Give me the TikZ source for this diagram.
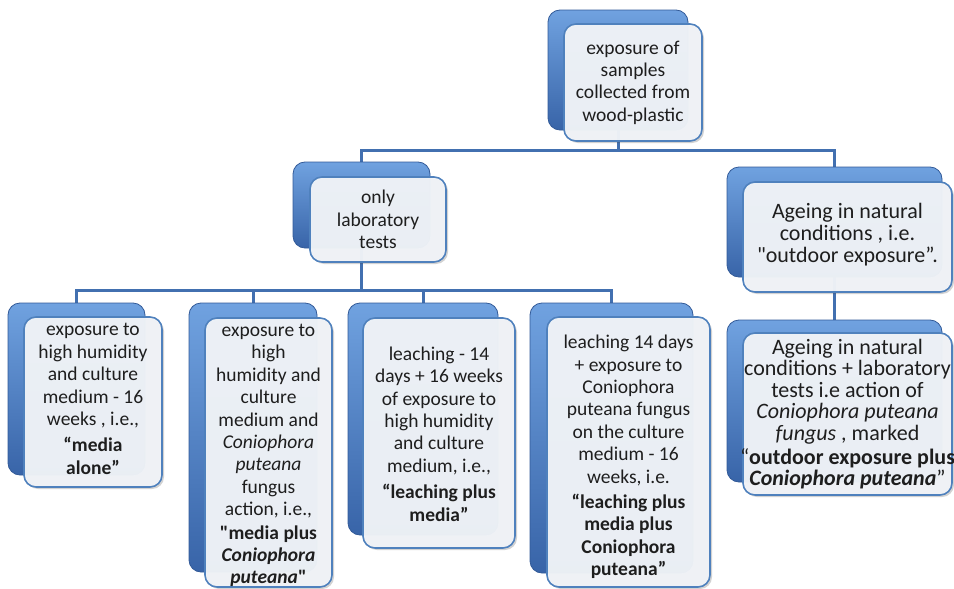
\documentclass[tikz,border=0pt]{standalone}
\usepackage{fontspec}
\setmainfont{Carlito}
% a second copy of the family without TeX ligatures, for straight quotes
\newfontfamily\qfont{Carlito}
\newcommand{\sq}{{\qfont"}}
\usetikzlibrary{shadows,backgrounds}

\definecolor{bluetop}{RGB}{112,162,224}
\definecolor{bluemid}{RGB}{72,124,192}
\definecolor{bluebot}{RGB}{56,100,168}
\definecolor{blueedge}{RGB}{50,90,152}
\definecolor{lineblue}{RGB}{66,112,176}
\definecolor{cardfill}{RGB}{241,244,248}
\definecolor{cardedge}{RGB}{79,129,189}
\definecolor{inkgray}{RGB}{30,30,30}

\tikzset{
  backbox/.style={rounded corners=12pt, top color=bluetop, middle color=bluemid,
    bottom color=bluebot, draw=blueedge, line width=0.8pt, inner sep=0pt},
  card/.style={rounded corners=12pt, fill=cardfill, fill opacity=0.96,
    draw=cardedge, line width=1.6pt, inner sep=0pt,
    drop shadow={shadow xshift=2pt, shadow yshift=-2pt, opacity=0.25, fill=black!70}},
  cardtext/.style={align=center, text=inkgray, inner sep=0pt},
  smalltxt/.style={font=\fontsize{19.5}{22.4}\selectfont},
  bigtxt/.style={font=\fontsize{22}{21.6}\selectfont},
  conn/.style={draw=lineblue, line width=3pt},
}

% \panel{name}{x1}{y1}{x2}{y2}
\newcommand{\panel}[5]{%
  \node[backbox, minimum width={(#4-#2)*1pt}, minimum height={(#5-#3)*1pt}]
    (#1) at ({(#2+#4)/2},{(#3+#5)/2}) {};}
% \cardat{text style}{name}{x1}{y1}{x2}{y2}{text shift}{text}
\newcommand{\cardat}[8]{%
  \node[card, minimum width={(#5-#3)*1pt}, minimum height={(#6-#4)*1pt}]
    (#2) at ({(#3+#5)/2},{(#4+#6)/2}) {};
  \node[cardtext, #1] (#2-t) at ([yshift={-(#7)*1pt}]#2.center) {#8};}

\begin{document}
\begin{tikzpicture}[x=1pt,y=-1pt]
\useasboundingbox (0,0) rectangle (954,589);

% dark blue backing panels
\panel{rootb}{548}{10}{688}{130}
\panel{labb}{293}{162}{430}{248}
\panel{ageb}{727}{167}{942}{277}
\panel{b1b}{8}{303}{145}{475}
\panel{b2b}{189}{303}{317}{572}
\panel{b3b}{348}{303}{498}{535}
\panel{b4b}{530}{303}{693}{573}
\panel{agebb}{727}{320}{942}{482}

% text cards
\cardat{smalltxt}{root}{564}{24}{702}{141}{0}{exposure of\\samples\\collected from\\wood-plastic}
\cardat{smalltxt}{lab}{310}{177}{446}{262}{0}{only\\laboratory\\tests}
\cardat{bigtxt}{age}{743}{182}{952}{292}{-2}{Ageing in natural\\conditions , i.e.\\[1pt]\sq outdoor exposure”.}
\cardat{smalltxt}{b1}{24}{317}{162}{487}{-3}{exposure to\\high humidity\\and culture\\medium - 16\\weeks , i.e.,\\[4pt]\textbf{“media}\\\textbf{alone”}}
\cardat{smalltxt}{b2}{205}{318}{332}{587}{3}{exposure to\\high\\humidity and\\culture\\medium and\\\textit{Coniophora}\\\textit{puteana}\\fungus\\action, i.e.,\\[1pt]\textbf{\sq media plus}\\\textbf{\textit{Coniophora}}\\\textbf{\textit{puteana}\sq}}
\cardat{smalltxt}{b3}{363}{318}{515}{548}{1}{leaching - 14\\days + 16 weeks\\of exposure to\\high humidity\\and culture\\medium, i.e.,\\[4pt]\textbf{“leaching plus}\\\textbf{media”}}
\cardat{smalltxt}{b4}{547}{317}{710}{587}{5}{leaching 14 days\\+ exposure to\\Coniophora\\puteana fungus\\on the culture\\medium - 16\\weeks, i.e.\\[3pt]\textbf{“leaching plus}\\\textbf{media plus}\\\textbf{Coniophora}\\\textbf{puteana”}}
\cardat{bigtxt}{ageb2}{743}{333}{952}{495}{0}{Ageing in natural\\conditions + laboratory\\tests i.e action of\\\textit{Coniophora puteana}\\\textit{fungus} , marked\\[2pt]“\textbf{outdoor exposure plus}\\\textbf{\textit{Coniophora puteana}}”}

% connectors, drawn behind the panels
\begin{scope}[on background layer]
\coordinate (busA) at (0,150);
\coordinate (busB) at (0,290);
\draw[conn] (rootb.south) -- (rootb.south |- busA) -| (labb.north);
\draw[conn] (rootb.south |- busA) -| (ageb.north);
\draw[conn] (labb.south) -- (labb.south |- busB) -| (b1b.north);
\draw[conn] (labb.south |- busB) -| (b2b.north);
\draw[conn] (labb.south |- busB) -| (b3b.north);
\draw[conn] (labb.south |- busB) -| (b4b.north);
\draw[conn] (ageb.south) -- (agebb.north);
\end{scope}
\end{tikzpicture}
\end{document}
